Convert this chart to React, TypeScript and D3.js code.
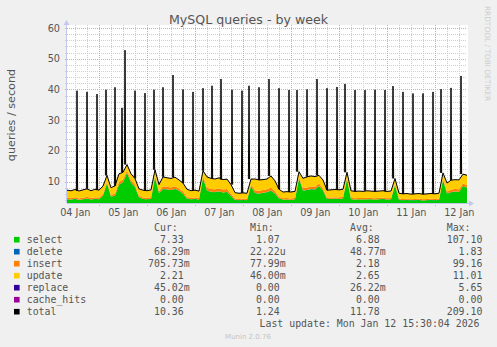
import React from "react";
import * as d3 from "d3";

// ---- time frame (UTC) ----
const START = Date.UTC(2026, 0, 4, 7, 50);
const SPAN_HOURS = 200;
const STEP_HOURS = 2;

// ---- base series, sampled every 2 hours from START ----
const selectVals = [
  4.2, 4.1, 4.3, 4.0, 4.2, 4.4, 4.1, 4.3, 4.2, 5.4,
  9.4, 5.0, 5.4, 9.0, 9.8, 12.8, 9.6, 8.2, 4.8, 4.3,
  4.2, 4.3, 11.4, 6.2, 7.6, 7.4, 7.2, 7.6, 7.0, 6.0,
  4.4, 4.2, 4.3, 4.1, 11.2, 7.0, 6.6, 6.5, 6.8, 6.4,
  6.6, 5.2, 4.0, 3.9, 4.0, 3.9, 8.5, 6.2, 6.0, 6.3,
  6.5, 7.0, 6.0, 4.5, 4.1, 4.1, 4.0, 4.2, 11.0, 7.0,
  7.2, 7.5, 7.4, 8.5, 7.0, 4.3, 4.3, 4.4, 4.3, 4.5,
  10.8, 4.2, 4.1, 4.2, 4.1, 4.2, 4.2, 4.1, 4.2, 4.3,
  4.1, 4.2, 8.8, 4.0, 3.9, 4.0, 3.9, 3.9, 4.0, 3.8,
  3.9, 4.0, 3.9, 4.0, 10.5, 6.0, 6.5, 6.7, 6.6, 8.5,
  8.0,
];
const deleteVals = [
  0.05, 0.04, 0.06, 0.05, 0.05, 0.07, 0.04, 0.05, 0.06, 0.05,
  0.05, 0.04, 0.06, 0.06, 0.05, 0.07, 0.06, 0.05, 0.05, 0.04,
  0.05, 0.05, 0.06, 0.05, 0.06, 0.07, 0.06, 0.05, 0.06, 0.05,
  0.04, 0.05, 0.05, 0.04, 0.06, 0.06, 0.07, 0.06, 0.05, 0.06,
  0.05, 0.05, 0.04, 0.04, 0.05, 0.04, 0.05, 0.06, 0.06, 0.07,
  0.06, 0.05, 0.06, 0.05, 0.04, 0.05, 0.04, 0.05, 0.06, 0.06,
  0.07, 0.06, 0.06, 0.05, 0.05, 0.04, 0.05, 0.05, 0.04, 0.05,
  0.06, 0.05, 0.04, 0.05, 0.05, 0.04, 0.05, 0.04, 0.05, 0.05,
  0.04, 0.05, 0.05, 0.04, 0.04, 0.05, 0.04, 0.04, 0.05, 0.04,
  0.04, 0.05, 0.04, 0.05, 0.06, 0.06, 0.07, 0.06, 0.07, 0.06,
  0.07,
];
const insertVals = [
  0.45, 0.4, 0.5, 0.45, 0.5, 0.55, 0.45, 0.5, 0.45, 0.5,
  0.5, 0.5, 0.6, 0.8, 0.8, 0.7, 0.8, 0.7, 0.5, 0.45,
  0.45, 0.5, 0.5, 0.6, 0.8, 0.8, 0.8, 0.8, 0.7, 0.7,
  0.5, 0.45, 0.45, 0.45, 0.5, 0.9, 0.9, 0.9, 0.9, 0.9,
  0.9, 0.7, 0.4, 0.4, 0.4, 0.4, 0.5, 0.9, 0.9, 0.9,
  0.9, 0.9, 0.8, 0.5, 0.4, 0.45, 0.45, 0.45, 0.5, 0.8,
  0.8, 0.8, 0.8, 0.8, 0.7, 0.45, 0.45, 0.45, 0.45, 0.45,
  0.5, 0.45, 0.4, 0.4, 0.45, 0.45, 0.4, 0.4, 0.45, 0.4,
  0.4, 0.4, 0.45, 0.35, 0.35, 0.35, 0.3, 0.35, 0.35, 0.35,
  0.35, 0.35, 0.35, 0.35, 0.5, 0.7, 0.8, 0.8, 0.8, 0.8,
  0.7,
];
const updateVals = [
  2.47, 2.42, 2.52, 2.37, 2.52, 2.57, 2.37, 2.62, 2.47, 2.52,
  2.02, 2.42, 2.52, 2.62, 2.32, 1.92, 2.02, 2.02, 2.22, 2.37,
  2.27, 2.42, 1.82, 2.12, 3.02, 2.92, 2.92, 2.92, 2.72, 2.72,
  2.52, 2.27, 2.37, 2.27, 1.72, 3.52, 3.42, 3.32, 3.42, 3.22,
  3.22, 3.02, 1.92, 1.82, 1.82, 1.82, 1.72, 3.62, 3.52, 3.32,
  3.32, 3.82, 3.32, 2.42, 2.02, 2.07, 2.07, 2.07, 1.62, 3.12,
  3.42, 3.42, 3.32, 2.62, 2.72, 2.37, 2.47, 2.47, 2.47, 2.47,
  1.62, 2.27, 2.22, 2.22, 2.17, 2.27, 2.22, 2.22, 2.17, 2.22,
  2.22, 2.22, 1.67, 1.77, 1.67, 1.67, 1.62, 1.67, 1.67, 1.67,
  1.67, 1.67, 1.67, 1.77, 1.72, 2.72, 3.02, 3.02, 3.02, 3.02,
  3.22,
];
const replaceVals = [
  0.03, 0.02, 0.03, 0.03, 0.02, 0.03, 0.03, 0.02, 0.03, 0.03,
  0.03, 0.02, 0.03, 0.04, 0.03, 0.03, 0.04, 0.03, 0.02, 0.03,
  0.03, 0.02, 0.03, 0.03, 0.04, 0.03, 0.03, 0.04, 0.03, 0.03,
  0.02, 0.03, 0.02, 0.03, 0.03, 0.04, 0.03, 0.04, 0.03, 0.03,
  0.03, 0.03, 0.02, 0.02, 0.03, 0.02, 0.03, 0.04, 0.03, 0.03,
  0.04, 0.03, 0.03, 0.02, 0.02, 0.03, 0.02, 0.03, 0.03, 0.04,
  0.03, 0.03, 0.04, 0.03, 0.03, 0.02, 0.03, 0.03, 0.02, 0.03,
  0.03, 0.02, 0.03, 0.02, 0.03, 0.02, 0.02, 0.03, 0.02, 0.03,
  0.02, 0.03, 0.03, 0.02, 0.02, 0.02, 0.03, 0.02, 0.02, 0.02,
  0.02, 0.03, 0.02, 0.02, 0.03, 0.03, 0.04, 0.03, 0.04, 0.03,
  0.05,
];

// ---- short periodic bursts of the total (hours after START, queries/s) ----
const spikeHours = [
  5, 10, 15, 19.5, 24, 27.5, 29, 34, 39, 43.5,
  48, 53, 58, 63, 68, 72.5, 77, 82.5, 87.5, 91,
  96, 101, 106, 111, 115, 120, 125, 130, 135, 139,
  144, 149, 154, 159, 163, 168, 173, 178, 183, 187,
  192, 197,
];
const spikePeaks = [
  39.6, 39.2, 38.5, 39.9, 40.7, 34.0, 52.8, 39.6, 38.8, 39.9,
  40.7, 44.7, 40.0, 39.2, 40.4, 41.2, 43.4, 39.9, 39.6, 41.2,
  40.7, 43.4, 40.4, 39.8, 39.8, 40.0, 43.4, 40.4, 40.8, 41.8,
  39.8, 39.8, 39.9, 39.8, 41.1, 39.2, 38.7, 38.7, 39.2, 40.1,
  40.5, 44.4,
];

// ---- legend ----
const legendNames = ["select", "delete", "insert", "update", "replace", "cache_hits", "total"];
const legendColors = ["#00CC00", "#0066B3", "#FF8000", "#FFCC00", "#330099", "#990099", "#000000"];
const curVals = ["7.33", "68.29m", "705.73m", "2.21", "45.02m", "0.00", "10.36"];
const minVals = ["1.07", "22.22u", "77.99m", "46.00m", "0.00", "0.00", "1.24"];
const avgVals = ["6.88", "48.77m", "2.18", "2.65", "26.22m", "0.00", "11.78"];
const maxVals = ["107.10", "1.83", "99.16", "11.01", "5.65", "0.00", "209.10"];

const yMajorTicks = [10, 20, 30, 40, 50, 60];

const fmt = (s: string) => {
  const hasUnit = /[a-zA-Z]$/.test(s);
  const num = hasUnit ? s.slice(0, -1) : s;
  const unit = hasUnit ? s.slice(-1) : " ";
  return num.padStart(6, " ") + unit;
};

export default function App() {
  const W = 497, H = 347;
  const X0 = 67, X1 = 467, YTOP = 25, YBOT = 203;
  const hToDate = (h: number) => new Date(START + h * 3600e3);
  const x = d3.scaleTime().domain([hToDate(0), hToDate(SPAN_HOURS)]).range([X0, X1]);
  const y = d3.scaleLinear().domain([3, 61]).range([YBOT, YTOP]);

  const gridHours = d3.range(0, SPAN_HOURS + 0.001, STEP_HOURS);
  const rows = gridHours.map((h, i) => ({
    t: hToDate(h),
    select: selectVals[i],
    delete: deleteVals[i],
    insert: insertVals[i],
    update: updateVals[i],
    replace: replaceVals[i],
  }));
  const keys = ["select", "delete", "insert", "update", "replace"];
  const series = d3.stack<any>().keys(keys)(rows);
  const area = d3
    .area<any>()
    .x((d) => x(d.data.t))
    .y0((d) => y(d[0]))
    .y1((d) => y(d[1]));
  const top = series[series.length - 1];
  const totalLine = d3
    .line<any>()
    .x((d) => x(d.data.t))
    .y((d) => y(d[1]));

  const spikeLine = d3.line<[number, number]>().x((d) => x(hToDate(d[0]))).y((d) => y(d[1]));
  const spikeArea = d3
    .area<[number, number, number]>()
    .x((d) => x(hToDate(d[0])))
    .y0((d) => y(d[2]))
    .y1((d) => y(d[1]));

  const end = hToDate(SPAN_HOURS);
  const midnights = d3.utcDay.range(hToDate(0), end);
  const sixHours = d3.utcHour.every(6)!.range(hToDate(0), end).filter((d) => d.getUTCHours() !== 0);
  const dayLabels = d3
    .utcDay.range(new Date(Date.UTC(2026, 0, 4)), end)
    .map((d) => ({ d, noon: new Date(+d + 12 * 3600e3) }))
    .filter((o) => o.noon >= hToDate(0) && o.noon <= end);
  const minorY = d3.range(4, 61, 2).filter((v) => v % 10 !== 0);

  const majorColor = "#eaa3a3";
  const minorColor = "#cfcfcf";
  const axisColor = "#c4c8ee";
  const textColor = "#555";
  const sans = "'DejaVu Sans', sans-serif";
  const mono = "'DejaVu Sans Mono', monospace";
  const snap = (v: number) => Math.round(v) + 0.5;

  const rowY = (k: number) => 239.7 + 12 * k;

  return (
    <svg width={W} height={H} style={{ position: "absolute", left: 0, top: 0 }} xmlns="http://www.w3.org/2000/svg">
      <defs>
        <clipPath id="plotclip">
          <rect x={X0} y={YTOP - 2} width={X1 - X0} height={YBOT - YTOP + 2} />
        </clipPath>
      </defs>
      <rect x={0} y={0} width={W} height={H} fill="#f0f0f0" />
      <rect x={X0 - 1} y={YTOP} width={X1 - X0 + 2} height={YBOT - YTOP} fill="#ffffff" />

      {/* title */}
      <text x={248.5} y={24} textAnchor="middle" fontFamily={sans} fontSize={12.6} fill={textColor}>
        MySQL queries - by week
      </text>
      {/* vertical unit label */}
      <text transform="translate(15,115) rotate(-90)" textAnchor="middle" fontFamily={sans} fontSize={11.2} fill={textColor}>
        queries / second
      </text>
      {/* watermark */}
      <text transform="translate(485,53.5) rotate(90)" textAnchor="middle" fontFamily={sans} fontSize={7.4} fill="#cdcdcd">
        RRDTOOL / TOBI OETIKER
      </text>

      {/* grid */}
      <g shapeRendering="crispEdges">
        {minorY.map((v) => (
          <line key={"my" + v} x1={X0 - 2} x2={X1} y1={snap(y(v))} y2={snap(y(v))} stroke={minorColor} strokeDasharray="1,1" />
        ))}
        {sixHours.map((d) => (
          <line key={"mx" + +d} x1={snap(x(d))} x2={snap(x(d))} y1={YTOP} y2={YBOT + 2} stroke={minorColor} strokeDasharray="1,1" />
        ))}
        {yMajorTicks.map((v) => (
          <line key={"My" + v} x1={X0 - 2} x2={X1} y1={snap(y(v))} y2={snap(y(v))} stroke={majorColor} strokeDasharray="1,1" />
        ))}
        {midnights.map((d) => (
          <line key={"Mx" + +d} x1={snap(x(d))} x2={snap(x(d))} y1={YTOP} y2={YBOT + 3} stroke={majorColor} strokeDasharray="1,1" />
        ))}
      </g>

      {/* stacked areas */}
      <g clipPath="url(#plotclip)">
        {series.map((s, i) => (
          <path key={s.key} d={area(s as any) || ""} fill={legendColors[i === 0 ? 0 : i === 1 ? 1 : i === 2 ? 2 : i === 3 ? 3 : 4]} />
        ))}
        {spikeHours.map((h, i) => {
          const base = top[Math.round(h / STEP_HOURS)][1];
          const pk = spikePeaks[i];
          return (
            <path
              key={"sa" + i}
              d={spikeArea([[h, base, base], [h + 0.15, pk - 1.5, base], [h + 0.6, base, base]]) || ""}
              fill="#c9a56e"
            />
          );
        })}
        <path d={totalLine(top as any) || ""} fill="none" stroke="#000" strokeWidth={1} />
        {spikeHours.map((h, i) => {
          const base = top[Math.round(h / STEP_HOURS)][1];
          return (
            <path
              key={"sl" + i}
              d={spikeLine([[h - 0.3, base], [h, spikePeaks[i]], [h + 0.3, base]]) || ""}
              fill="none"
              stroke="#000"
              strokeWidth={1}
            />
          );
        })}
      </g>

      {/* axes */}
      <g shapeRendering="crispEdges">
        <line x1={X0 - 0.5} x2={X0 - 0.5} y1={YTOP} y2={YBOT} stroke={axisColor} />
        <line x1={X0} x2={X1 + 3} y1={YBOT + 0.5} y2={YBOT + 0.5} stroke={axisColor} />
      </g>
      <path d={`M${X0 - 3.5},${YTOP} L${X0 - 0.5},${YTOP - 5} L${X0 + 2.5},${YTOP} Z`} fill={axisColor} />
      <path d={`M${X1 + 2},${YBOT - 2.5} L${X1 + 7},${YBOT + 0.5} L${X1 + 2},${YBOT + 3.5} Z`} fill={axisColor} />

      {/* y labels */}
      {yMajorTicks.map((v) => (
        <text key={"yl" + v} x={60} y={y(v) + 3.5} textAnchor="end" fontFamily={sans} fontSize={9.7} fill={textColor}>
          {v}
        </text>
      ))}
      {/* x labels */}
      {dayLabels.map((o) => (
        <text key={"xl" + +o.d} x={x(o.noon)} y={216} textAnchor="middle" fontFamily={sans} fontSize={9.7} fill={textColor}>
          {d3.utcFormat("%d %b")(o.d)}
        </text>
      ))}

      {/* legend */}
      <g fontFamily={mono} fontSize={9.9} fill={textColor} style={{ whiteSpace: "pre" }}>
        <text x={154} y={231.2}>Cur:</text>
        <text x={250} y={231.2}>Min:</text>
        <text x={350} y={231.2}>Avg:</text>
        <text x={446.7} y={231.2}>Max:</text>
        {legendNames.map((n, k) => (
          <g key={n}>
            <rect x={14} y={rowY(k) - 2.8} width={5.6} height={5.6} fill={legendColors[k]} />
            <text x={26.7} y={rowY(k) + 3.4}>{n}</text>
            <text x={148} y={rowY(k) + 3.4} xmlSpace="preserve">{fmt(curVals[k])}</text>
            <text x={244} y={rowY(k) + 3.4} xmlSpace="preserve">{fmt(minVals[k])}</text>
            <text x={344} y={rowY(k) + 3.4} xmlSpace="preserve">{fmt(avgVals[k])}</text>
            <text x={446.7} y={rowY(k) + 3.4} xmlSpace="preserve">{fmt(maxVals[k])}</text>
          </g>
        ))}
        <text x={259.5} y={326.8} xmlSpace="preserve">Last update: Mon Jan 12 15:30:04 2026</text>
      </g>
      <text x={248} y={338.5} textAnchor="middle" fontFamily={sans} fontSize={7} fill="#c4c4c4">
        Munin 2.0.76
      </text>
    </svg>
  );
}
